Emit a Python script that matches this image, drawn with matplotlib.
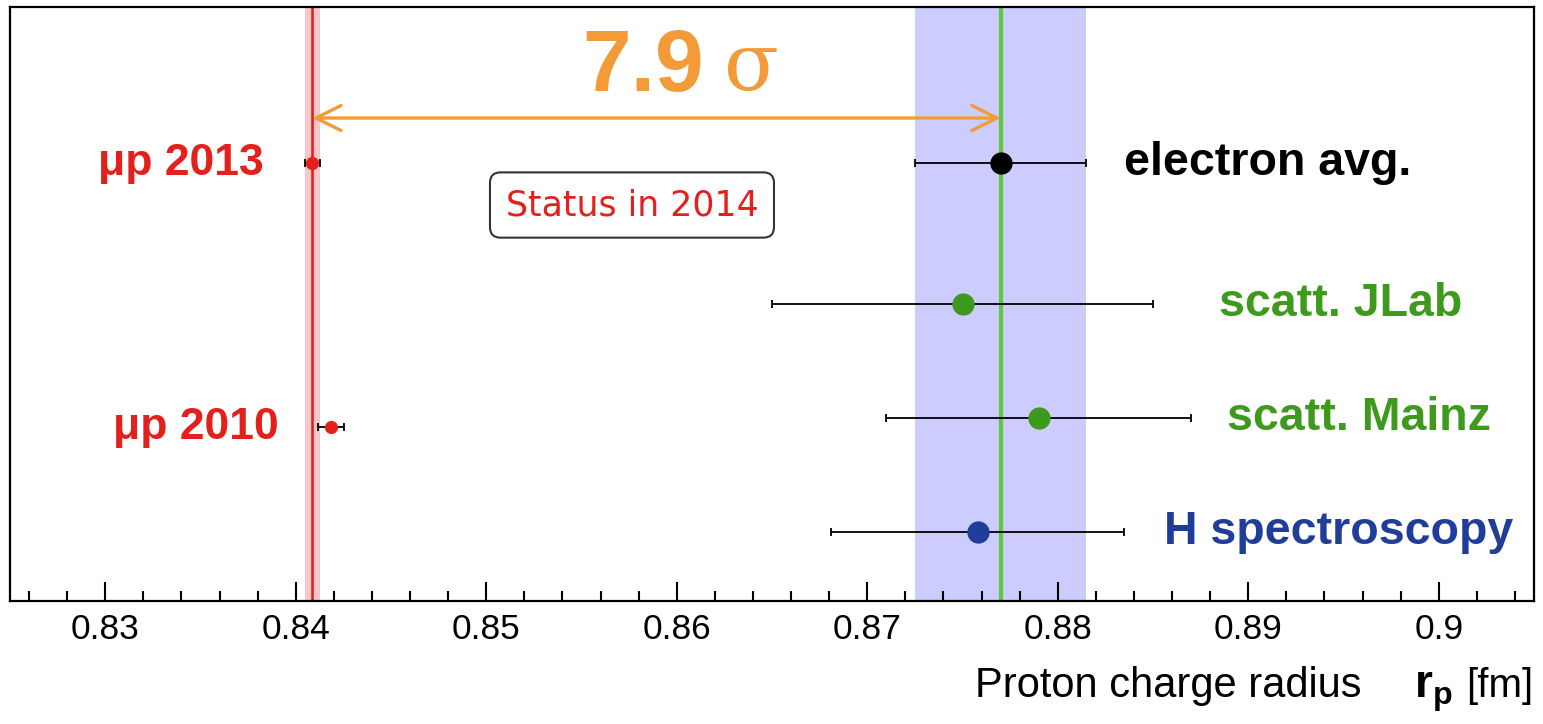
import matplotlib
matplotlib.use("Agg")
from matplotlib import pyplot as plt
from matplotlib.ticker import MultipleLocator, FormatStrFormatter

# proton charge radius measurements (fm)
labels = ["μp 2013", "μp 2010", "electron avg.", "scatt. JLab", "scatt. Mainz", "H spectroscopy"]
radius = [0.84087, 0.84184, 0.8770, 0.8750, 0.8790, 0.8758]
radius_err = [0.00039, 0.00067, 0.0045, 0.0100, 0.0080, 0.0077]
rows = [156, 420, 156, 297, 411, 525]
colors = ['#e3201b', '#e3201b', 'black', '#3d9a1c', '#3d9a1c', '#1f3d99']
marker_size = [8.5, 8.5, 15, 15, 15, 15]
label_x = [0.83834, 0.83913, 0.88346, 0.88845, 0.88887, 0.88556]
label_ha = ['right', 'right', 'left', 'left', 'left', 'left']
label_size = [32, 32, 33.5, 33.5, 33.5, 33.5]

mu_val, mu_err = 0.84087, 0.00039
e_val, e_err = 0.8770, 0.0045
sigma_text = "7.9"

plt.rcParams['font.family'] = ['Liberation Sans', 'DejaVu Sans']
plt.rcParams['mathtext.fontset'] = 'custom'
plt.rcParams['mathtext.rm'] = 'Liberation Sans'
plt.rcParams['mathtext.bf'] = 'Liberation Sans:bold'

fig = plt.figure(figsize=(15.43, 7.24), dpi=100)
ax = fig.add_axes([0.00648, 0.1699, 0.98769, 0.8204])

# bands
ax.axvspan(e_val - e_err, e_val + e_err, color='#ccccff', lw=0, zorder=0)
ax.axvline(e_val, color='#5cc83a', lw=3, zorder=1)
ax.axvspan(mu_val - mu_err, mu_val + mu_err, color='#f6c6c8', lw=0, zorder=0)
ax.axvline(mu_val, color='#ee1515', lw=1.8, zorder=1)

for i in range(len(labels)):
    ax.errorbar(radius[i], rows[i], xerr=radius_err[i], fmt='o', color=colors[i],
                ms=marker_size[i], ecolor='black', elinewidth=1.3, capsize=3, capthick=1.3, zorder=3)
    ax.text(label_x[i], rows[i], labels[i], color=colors[i], fontsize=label_size[i], fontweight='bold',
            ha=label_ha[i], va='center')

# arrow between muonic and electronic values
ax.annotate('', xy=(mu_val, 111), xytext=(e_val, 111),
            arrowprops=dict(arrowstyle='<->,head_length=1.8,head_width=0.9', color='#f29b38', lw=2.4,
                            shrinkA=0, shrinkB=0))
ax.text(0.86143, 61, sigma_text, color='#f29b38', fontsize=63, fontweight='bold', ha='right', va='center')
ax.text(0.86248, 61, 'σ', color='#f29b38', fontsize=58, family='DejaVu Serif', ha='left', va='center')

ax.text(0.85765, 198, 'Status in 2014', color='#e3201b', fontsize=25, family='DejaVu Sans',
        ha='center', va='center',
        bbox=dict(boxstyle='round,pad=0.45,rounding_size=0.3', fc='white', ec='#333333', lw=1.5))

ax.set_xlim(0.825, 0.905)
ax.set_ylim(594, 0)
ax.set_yticks([])
ax.xaxis.set_major_locator(MultipleLocator(0.01))
ax.xaxis.set_minor_locator(MultipleLocator(0.002))
ax.xaxis.set_major_formatter(FormatStrFormatter('%g'))
ax.tick_params(axis='x', which='major', direction='in', length=14, width=1.5, labelsize=25.5, pad=9)
ax.tick_params(axis='x', which='minor', direction='in', length=7, width=1.5)
for sp in ax.spines.values():
    sp.set_linewidth(1.6)

# axis title, pieced together so the r can be set larger
base = (724 - 697) / 724
fig.text(975 / 1543, base, 'Proton charge radius', fontsize=30, ha='left', va='baseline')
fig.text(1414 / 1543, base, r'$\mathbf{r}_\mathbf{p}$', fontsize=33, ha='left', va='baseline')
fig.text(1466 / 1543, base, '[fm]', fontsize=29, ha='left', va='baseline')

fig.savefig('out.png', dpi=100)
